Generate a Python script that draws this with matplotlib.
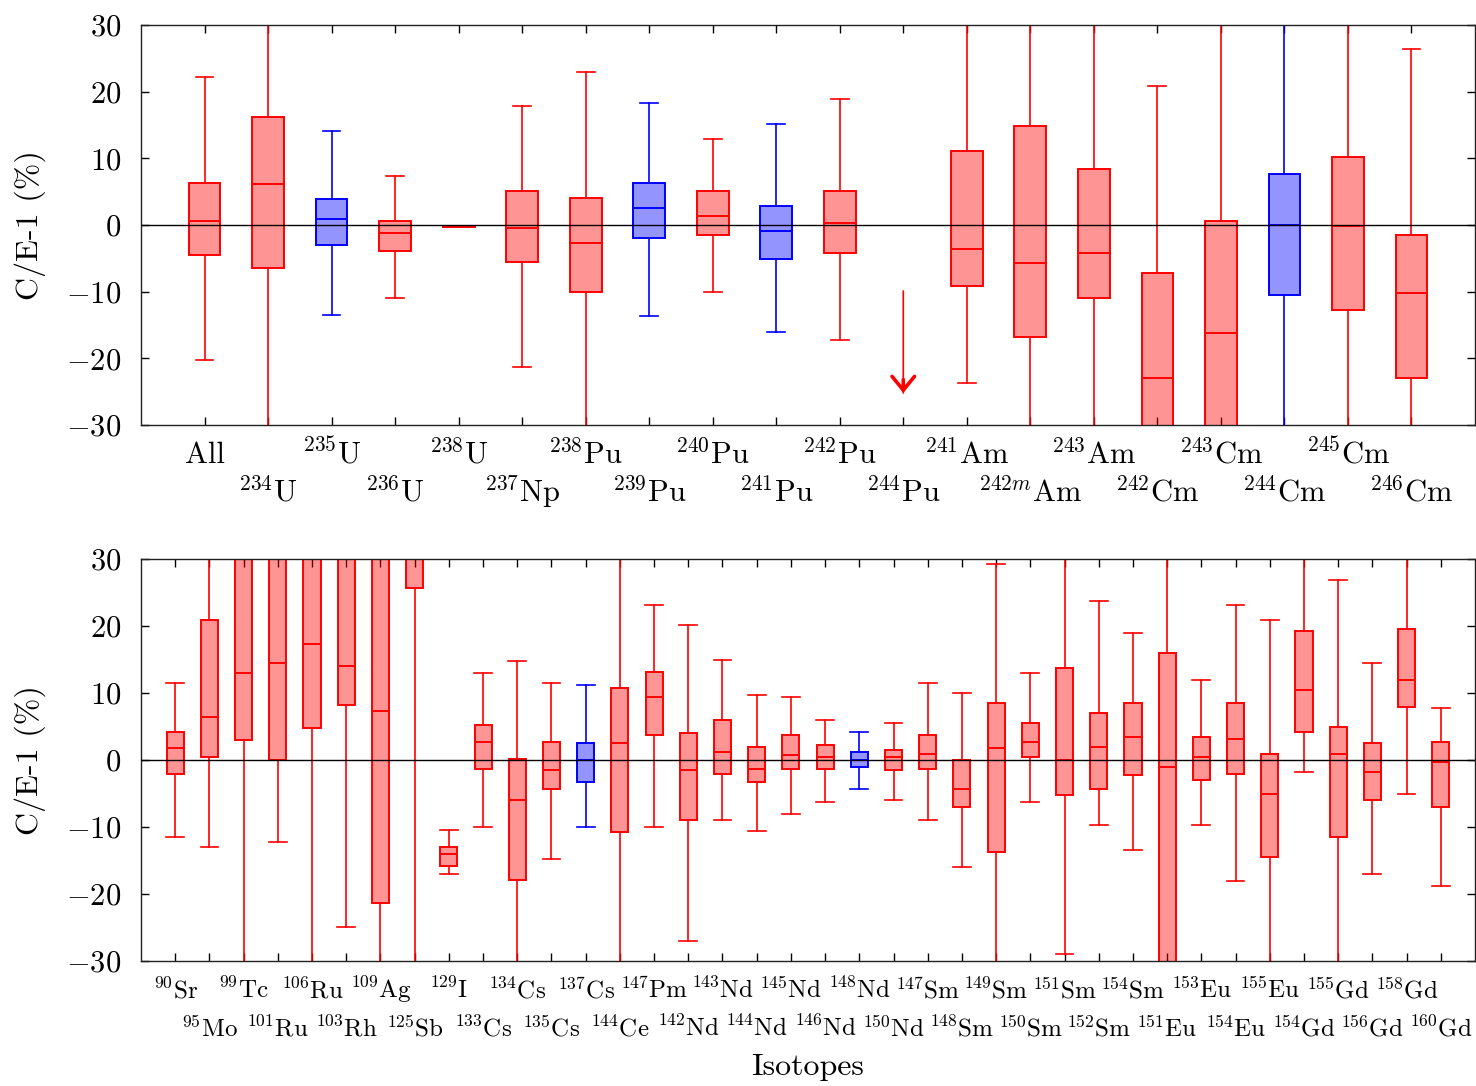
import matplotlib.pyplot as plt
import numpy as np

plt.rcParams['font.family'] = 'serif'
plt.rcParams['font.serif'] = ['cmr10']
plt.rcParams['mathtext.fontset'] = 'cm'
plt.rcParams['axes.formatter.use_mathtext'] = True

# actinides (top panel); values beyond +-30 are off the plot
act_names = ['All', '$^{234}$U', '$^{235}$U', '$^{236}$U', '$^{238}$U', '$^{237}$Np',
             '$^{238}$Pu', '$^{239}$Pu', '$^{240}$Pu', '$^{241}$Pu', '$^{242}$Pu', '$^{244}$Pu',
             '$^{241}$Am', '$^{242m}$Am', '$^{243}$Am', '$^{242}$Cm', '$^{243}$Cm', '$^{244}$Cm',
             '$^{245}$Cm', '$^{246}$Cm']
act_lo  = [-20.3, -40, -13.45, -10.95, -0.3, -21.25, -40, -13.7, -10.0, -16.0, -17.25, None,
           -23.75, -40, -40, -45, -45, -40, -40, -40]
act_q1  = [-4.5, -6.45, -2.95, -3.95, -0.3, -5.5, -10.0, -1.95, -1.5, -5.15, -4.25, None,
           -9.15, -16.75, -11.0, -40, -40, -10.45, -12.75, -23.0]
act_med = [0.6, 6.15, 0.85, -1.15, -0.2, -0.45, -2.7, 2.6, 1.3, -0.85, 0.35, None,
           -3.65, -5.7, -4.2, -23.0, -16.2, 0.0, -0.2, -10.2]
act_q3  = [6.3, 16.2, 3.85, 0.6, -0.1, 5.1, 4.05, 6.35, 5.1, 2.8, 5.1, None,
           11.1, 14.85, 8.35, -7.2, 0.6, 7.6, 10.15, -1.45]
act_hi  = [22.2, 40, 14.1, 7.35, -0.1, 17.85, 23.0, 18.35, 12.85, 15.1, 18.9, None,
           40, 40, 40, 20.85, 40, 40, 40, 26.4]
act_blue = ['$^{235}$U', '$^{239}$Pu', '$^{241}$Pu', '$^{244}$Cm']
pu244_arrow = [-9.9, -25.2]   # start, tip

# fission products (bottom panel)
fp_names = ['$^{90}$Sr', '$^{95}$Mo', '$^{99}$Tc', '$^{101}$Ru', '$^{106}$Ru', '$^{103}$Rh',
            '$^{109}$Ag', '$^{125}$Sb', '$^{129}$I', '$^{133}$Cs', '$^{134}$Cs', '$^{135}$Cs',
            '$^{137}$Cs', '$^{144}$Ce', '$^{147}$Pm', '$^{142}$Nd', '$^{143}$Nd', '$^{144}$Nd',
            '$^{145}$Nd', '$^{146}$Nd', '$^{148}$Nd', '$^{150}$Nd', '$^{147}$Sm', '$^{148}$Sm',
            '$^{149}$Sm', '$^{150}$Sm', '$^{151}$Sm', '$^{152}$Sm', '$^{154}$Sm', '$^{151}$Eu',
            '$^{153}$Eu', '$^{154}$Eu', '$^{155}$Eu', '$^{154}$Gd', '$^{155}$Gd', '$^{156}$Gd',
            '$^{158}$Gd', '$^{160}$Gd']
fp_lo  = [-11.56, -13.07, -40, -12.29, -40, -25.05, -40, -40, -17.08, -10.05, -40, -14.79,
          -10.05, -40, -10.05, -27.08, -9.06, -10.57, -8.07, -6.30, -4.32, -6.04, -9.06, -16.04,
          -40, -6.30, -29.06, -9.79, -13.54, -45, -9.79, -18.07, -40, -1.82, -40, -17.08,
          -5.05, -18.85]
fp_q1  = [-2.08, 0.47, 2.97, 0.0, 4.69, 8.18, -21.35, 25.73, -15.83, -1.35, -18.02, -4.32,
          -3.28, -10.83, 3.70, -9.06, -2.08, -3.33, -1.35, -1.35, -1.04, -1.56, -1.35, -7.08,
          -13.80, 0.47, -5.31, -4.32, -2.29, -40, -3.07, -2.08, -14.58, 4.22, -11.56, -6.04,
          7.92, -7.08]
fp_med = [1.72, 6.46, 12.97, 14.53, 17.24, 13.96, 7.24, 40, -14.06, 2.71, -6.04, -1.56,
          0.0, 2.45, 9.43, -1.56, 1.20, -1.30, 0.68, 0.47, 0.0, 0.47, 0.94, -4.32,
          1.72, 2.71, 0.0, 1.93, 3.44, -1.04, 0.47, 3.18, -5.05, 10.47, 0.94, -1.77,
          11.98, -0.31]
fp_q3  = [4.17, 20.94, 40, 40, 40, 40, 40, 45, -13.07, 5.26, 0.16, 2.71,
          2.45, 10.68, 13.18, 3.96, 5.94, 1.93, 3.70, 2.19, 1.20, 1.46, 3.70, -0.10,
          8.49, 5.47, 13.70, 6.98, 8.49, 15.94, 3.44, 8.49, 0.94, 19.22, 4.95, 2.45,
          19.48, 2.71]
fp_hi  = [11.46, 40, 45, 45, 45, 45, 45, 50, -10.52, 12.97, 14.69, 11.46,
          11.25, 40, 23.18, 20.21, 14.95, 9.74, 9.43, 5.94, 4.17, 5.47, 11.46, 9.95,
          29.22, 12.97, 40, 23.70, 18.96, 40, 11.98, 23.18, 20.94, 40, 26.93, 14.48,
          40, 7.71]
fp_blue = ['$^{137}$Cs', '$^{148}$Nd']

yticks = [-30, -20, -10, 0, 10, 20, 30]


def draw_panel(ax, names, lo, q1, med, q3, hi, blue, capw, xfs, pads):
    stats, pos, edges = [], [], []
    for i in range(len(names)):
        if med[i] is None:
            continue
        stats.append(dict(med=med[i], q1=q1[i], q3=q3[i], whislo=lo[i], whishi=hi[i], fliers=[]))
        pos.append(i + 1)
        edges.append('#0000ff' if names[i] in blue else '#ff0000')
    bp = ax.bxp(stats, positions=pos, widths=0.5, capwidths=capw,
                patch_artist=True, showfliers=False)
    for k, c in enumerate(edges):
        fill = (1, 0, 0, 0.42) if c == '#ff0000' else (0, 0, 1, 0.42)
        bp['boxes'][k].set(facecolor=fill, edgecolor=c, linewidth=1.4)
        bp['medians'][k].set(color=c, linewidth=1.4)
        for art in bp['whiskers'][2 * k:2 * k + 2] + bp['caps'][2 * k:2 * k + 2]:
            art.set(color=c, linewidth=1.2)

    ax.axhline(0, color='black', linewidth=1.0, zorder=5)
    n = len(names)
    ax.set_xlim(0, n + 1)
    ax.set_ylim(-30, 30)
    ax.set_yticks(yticks)
    ax.set_yticklabels(['$%d$' % v for v in yticks], fontsize=22)
    odd = list(range(1, n + 1, 2))
    even = list(range(2, n + 1, 2))
    ax.set_xticks(odd)
    ax.set_xticklabels([names[i - 1] for i in odd], fontsize=xfs)
    ax.set_xticks(even, minor=True)
    ax.set_xticklabels([names[i - 1] for i in even], minor=True, fontsize=xfs)
    ax.tick_params(axis='x', which='both', direction='in', top=True, length=6, width=1)
    ax.tick_params(axis='x', which='major', pad=pads[0])
    ax.tick_params(axis='x', which='minor', pad=pads[1])
    ax.tick_params(axis='y', direction='in', right=True, length=6, width=1, pad=14)
    for lab in ax.get_xticklabels(which='both'):
        lab.set_va('baseline')
    for s in ax.spines.values():
        s.set_linewidth(1.0)
        s.set_color('#222222')
    ax.set_ylabel('C/E-1 (%)', fontsize=23)
    ax.yaxis.set_label_coords(-0.071, 0.5)


fig = plt.figure(figsize=(14.76, 10.86), dpi=100)
ax1 = fig.add_axes([141 / 1476, 1 - 425 / 1086, 1334 / 1476, 400 / 1086])
ax2 = fig.add_axes([141 / 1476, 1 - 960.6 / 1086, 1334 / 1476, 401.6 / 1086])

draw_panel(ax1, act_names, act_lo, act_q1, act_med, act_q3, act_hi, act_blue,
           0.28, 22, (27.6, 55.2))
draw_panel(ax2, fp_names, fp_lo, fp_q1, fp_med, fp_q3, fp_hi, fp_blue,
           0.52, 18, (27, 54.5))

# 244Pu: only an arrow pointing below the range
ax1.annotate('', xy=(12, pu244_arrow[1]), xytext=(12, pu244_arrow[0]),
             arrowprops=dict(arrowstyle='-', color='red', lw=1.2, shrinkA=0, shrinkB=0))
ax1.annotate('', xy=(12, pu244_arrow[1]), xytext=(12, pu244_arrow[1] + 2),
             arrowprops=dict(arrowstyle='->,head_length=0.55,head_width=0.45',
                             color='red', lw=2.6, mutation_scale=18, shrinkA=0, shrinkB=0))

ax2.set_xlabel('Isotopes', fontsize=23)
ax2.xaxis.set_label_coords(0.5, -0.232)

fig.savefig('out.png', dpi=100)
